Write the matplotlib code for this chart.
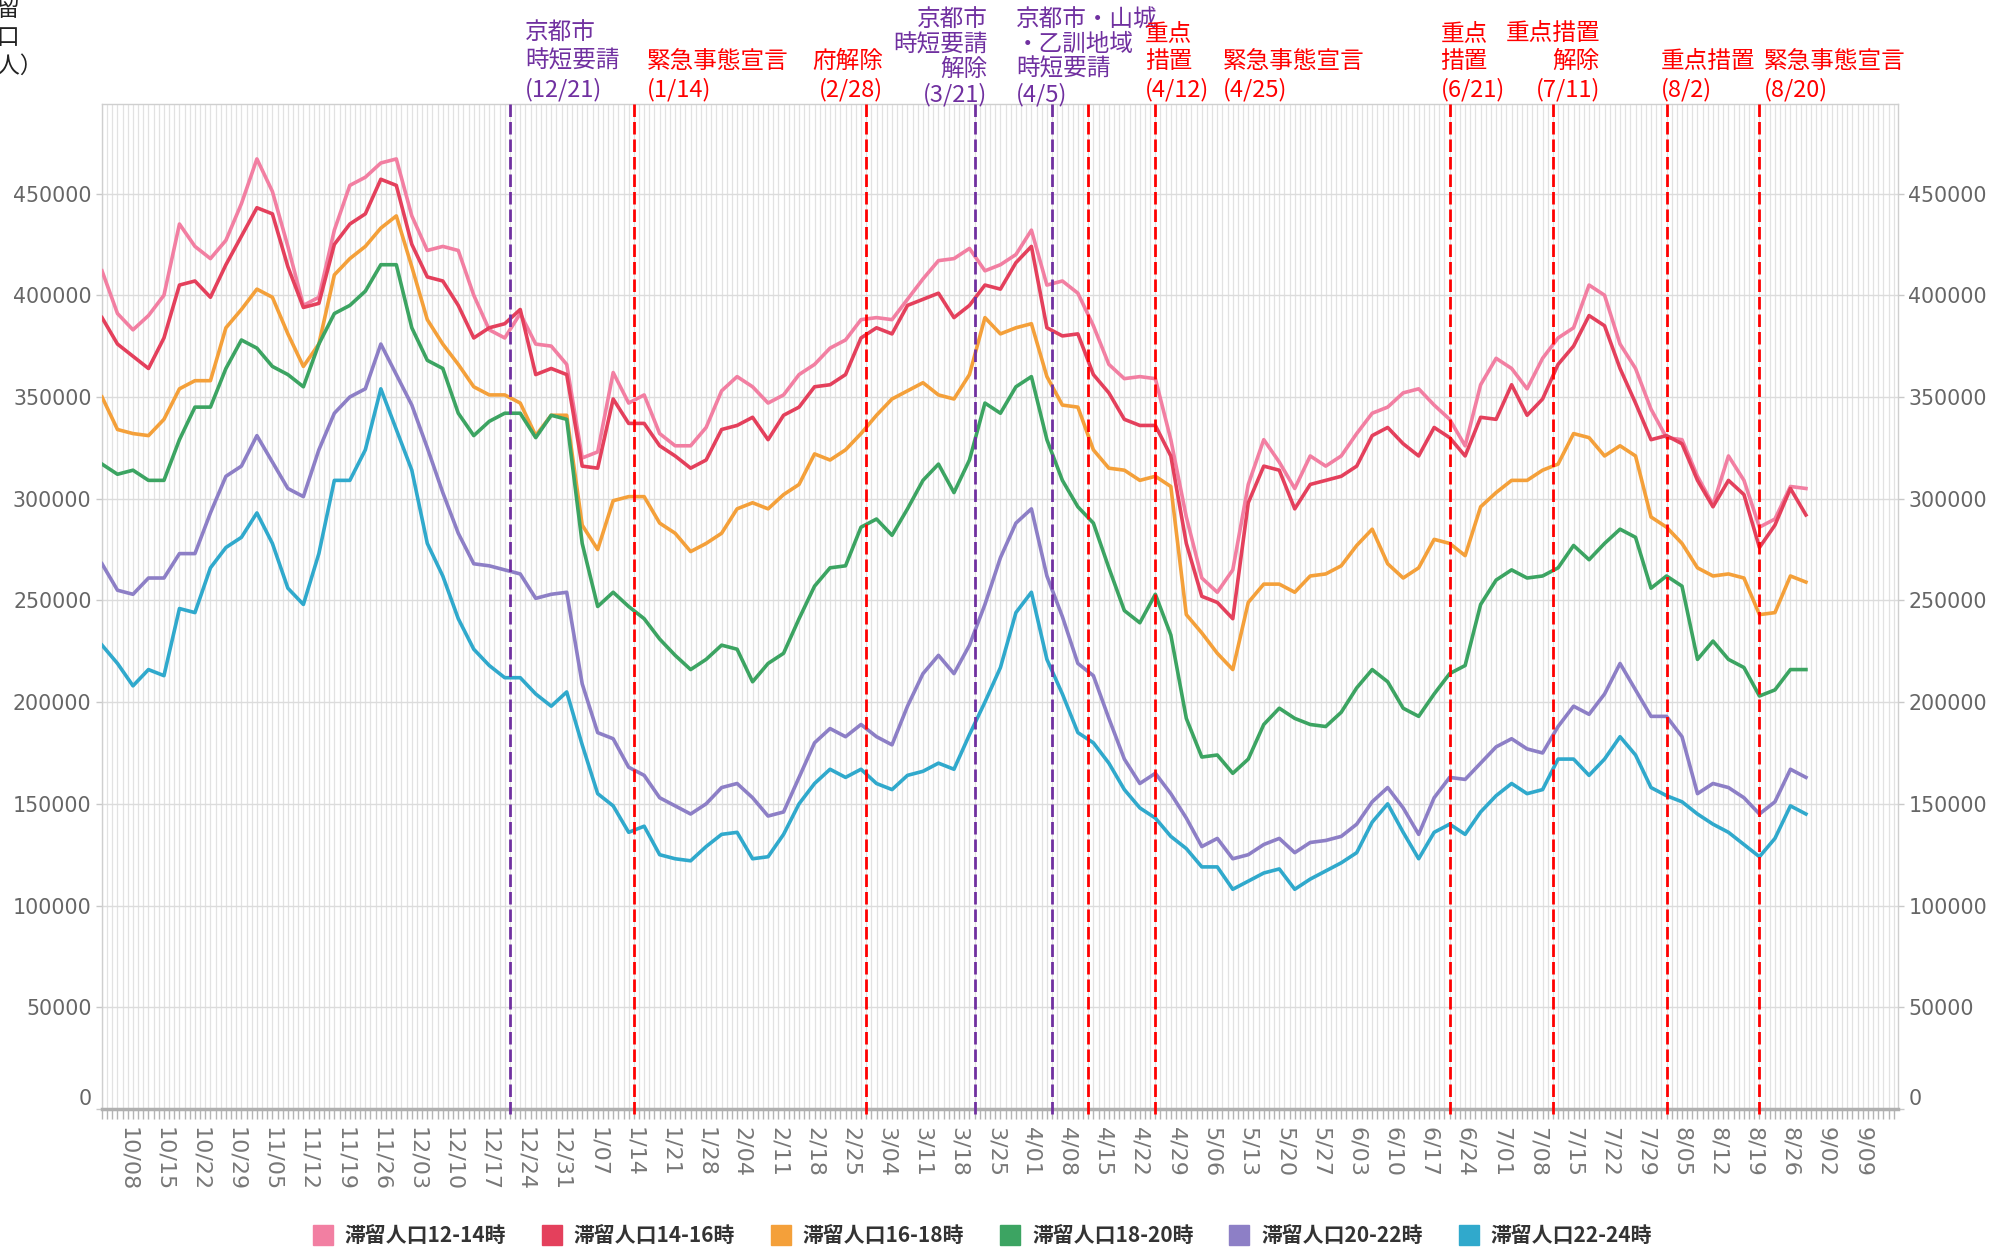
import numpy as np
import pandas as pd
import matplotlib
matplotlib.use('Agg')
import matplotlib.pyplot as plt
import matplotlib.dates as mdates
from matplotlib.ticker import FuncFormatter, MultipleLocator
from matplotlib.lines import Line2D

plt.rcParams['font.family'] = ['DejaVu Sans', 'Noto Sans CJK JP']

# 3日おきの読み取り値 (2020/10/03 - 2021/08/29)
dates = pd.date_range('2020-10-03', periods=111, freq='3D')

pop_12_14 = [412, 391, 383, 390, 400, 435, 424, 418, 427, 445, 467, 451, 424, 395, 399,
             432, 454, 458, 465, 467, 439, 422, 424, 422, 400, 383, 379, 391, 376, 375,
             366, 320, 323, 362, 347, 351, 332, 326, 326, 335, 353, 360, 355, 347, 351,
             361, 366, 374, 378, 388, 389, 388, 398, 408, 417, 418, 423, 412, 415, 420,
             432, 405, 407, 401, 385, 366, 359, 360, 359, 329, 291, 261, 254, 265, 307,
             329, 318, 305, 321, 316, 321, 332, 342, 345, 352, 354, 346, 339, 326, 356,
             369, 364, 354, 369, 379, 384, 405, 400, 376, 364, 344, 330, 329, 311, 297,
             321, 309, 286, 290, 306, 305]
pop_14_16 = [389, 376, 370, 364, 379, 405, 407, 399, 415, 429, 443, 440, 414, 394, 396,
             425, 435, 440, 457, 454, 425, 409, 407, 395, 379, 384, 386, 393, 361, 364,
             361, 316, 315, 349, 337, 337, 326, 321, 315, 319, 334, 336, 340, 329, 341,
             345, 355, 356, 361, 379, 384, 381, 395, 398, 401, 389, 395, 405, 403, 416,
             424, 384, 380, 381, 361, 352, 339, 336, 336, 321, 278, 252, 249, 241, 298,
             316, 314, 295, 307, 309, 311, 316, 331, 335, 327, 321, 335, 330, 321, 340,
             339, 356, 341, 349, 366, 375, 390, 385, 364, 347, 329, 331, 327, 309, 296,
             309, 302, 276, 287, 305, 292]
pop_16_18 = [350, 334, 332, 331, 339, 354, 358, 358, 384, 393, 403, 399, 381, 365, 376,
             410, 418, 424, 433, 439, 414, 388, 376, 366, 355, 351, 351, 347, 331, 341,
             341, 287, 275, 299, 301, 301, 288, 283, 274, 278, 283, 295, 298, 295, 302,
             307, 322, 319, 324, 332, 341, 349, 353, 357, 351, 349, 361, 389, 381, 384,
             386, 360, 346, 345, 324, 315, 314, 309, 311, 306, 243, 234, 224, 216, 249,
             258, 258, 254, 262, 263, 267, 277, 285, 268, 261, 266, 280, 278, 272, 296,
             303, 309, 309, 314, 317, 332, 330, 321, 326, 321, 291, 286, 278, 266, 262,
             263, 261, 243, 244, 262, 259]
pop_18_20 = [317, 312, 314, 309, 309, 329, 345, 345, 364, 378, 374, 365, 361, 355, 376,
             391, 395, 402, 415, 415, 384, 368, 364, 342, 331, 338, 342, 342, 330, 341,
             339, 278, 247, 254, 247, 241, 231, 223, 216, 221, 228, 226, 210, 219, 224,
             241, 257, 266, 267, 286, 290, 282, 295, 309, 317, 303, 319, 347, 342, 355,
             360, 329, 309, 296, 288, 266, 245, 239, 253, 233, 192, 173, 174, 165, 172,
             189, 197, 192, 189, 188, 195, 207, 216, 210, 197, 193, 204, 214, 218, 248,
             260, 265, 261, 262, 266, 277, 270, 278, 285, 281, 256, 262, 257, 221, 230,
             221, 217, 203, 206, 216, 216]
pop_20_22 = [268, 255, 253, 261, 261, 273, 273, 293, 311, 316, 331, 318, 305, 301, 324,
             342, 350, 354, 376, 361, 346, 325, 303, 283, 268, 267, 265, 263, 251, 253,
             254, 209, 185, 182, 168, 164, 153, 149, 145, 150, 158, 160, 153, 144, 146,
             163, 180, 187, 183, 189, 183, 179, 198, 214, 223, 214, 228, 248, 271, 288,
             295, 262, 242, 219, 213, 192, 172, 160, 165, 155, 143, 129, 133, 123, 125,
             130, 133, 126, 131, 132, 134, 140, 151, 158, 148, 135, 153, 163, 162, 170,
             178, 182, 177, 175, 188, 198, 194, 204, 219, 206, 193, 193, 183, 155, 160,
             158, 153, 145, 151, 167, 163]
pop_22_24 = [228, 219, 208, 216, 213, 246, 244, 266, 276, 281, 293, 278, 256, 248, 273,
             309, 309, 324, 354, 334, 314, 278, 262, 241, 226, 218, 212, 212, 204, 198,
             205, 179, 155, 149, 136, 139, 125, 123, 122, 129, 135, 136, 123, 124, 135,
             150, 160, 167, 163, 167, 160, 157, 164, 166, 170, 167, 184, 200, 217, 244,
             254, 221, 204, 185, 180, 170, 157, 148, 143, 134, 128, 119, 119, 108, 112,
             116, 118, 108, 113, 117, 121, 126, 141, 150, 136, 123, 136, 140, 135, 146,
             154, 160, 155, 157, 172, 172, 164, 172, 183, 174, 158, 154, 151, 145, 140,
             136, 130, 124, 133, 149, 145]

series_names = ['滞留人口12-14時', '滞留人口14-16時', '滞留人口16-18時',
                '滞留人口18-20時', '滞留人口20-22時', '滞留人口22-24時']
series_vals = [pop_12_14, pop_14_16, pop_16_18, pop_18_20, pop_20_22, pop_22_24]
colors = ['#F27FA2', '#E4405C', '#F4A03A', '#3CA462', '#8D7FC6', '#30A9CC']

# 施策の日付
event_dates = ['2020-12-21', '2021-01-14', '2021-02-28', '2021-03-21', '2021-04-05',
               '2021-04-12', '2021-04-25', '2021-06-21', '2021-07-11', '2021-08-02',
               '2021-08-20']
event_texts = ['京都市\n時短要請\n(12/21)', '緊急事態宣言\n(1/14)', '府解除\n(2/28)',
               '京都市\n時短要請\n解除\n(3/21)', '京都市・山城\n・乙訓地域\n時短要請\n(4/5)',
               '重点\n措置\n(4/12)', '緊急事態宣言\n(4/25)', '重点\n措置\n(6/21)',
               '重点措置\n解除\n(7/11)', '重点措置\n(8/2)', '緊急事態宣言\n(8/20)']
RED = '#FF0000'
PUR = '#7030A0'
event_colors = [PUR, RED, RED, PUR, PUR, RED, RED, RED, RED, RED, RED]
# テキスト位置 (線からのずれ, px) と揃え
txt_dx = [15, 13, 17, 13, -36, 57, 68, -9, 47, -6, 4]
txt_ha = ['left', 'left', 'right', 'right', 'left', 'left', 'left', 'left', 'right', 'left', 'left']

W, H = 1997, 1254
fig = plt.figure(figsize=(W / 100, H / 100), dpi=100)
ax = fig.add_axes([102 / W, 1 - 1109 / H, 1796 / W, 1005 / H])

for vals, c, name in zip(series_vals, colors, series_names):
    ax.plot(dates, np.array(vals) * 1000, color=c, lw=2.6, label=name, zorder=3)

for d, c in zip(event_dates, event_colors):
    ax.axvline(pd.Timestamp(d), color=c, lw=2.0, linestyle=(0, (4.5, 1.8)), zorder=4,
               clip_on=False, ymin=-0.005)

for d, t, c, dx, ha in zip(event_dates, event_texts, event_colors, txt_dx, txt_ha):
    four = t.count('\n') == 3
    ax.annotate(t, xy=(pd.Timestamp(d), 1.0), xycoords=('data', 'axes fraction'),
                xytext=(dx * 0.72, -1.5 if four else 1.8), textcoords='offset points',
                ha=ha, va='bottom', color=c, fontsize=17,
                linespacing=1.09 if four else 1.27,
                family=['Noto Sans CJK JP'], annotation_clip=False)

ax.set_xlim(pd.Timestamp('2020-10-03'), pd.Timestamp('2021-09-15 20:00'))
ax.set_ylim(0, 494000)

ax.xaxis.set_major_locator(mdates.WeekdayLocator(byweekday=mdates.TH))
ax.xaxis.set_minor_locator(mdates.DayLocator())
ax.xaxis.set_major_formatter(FuncFormatter(
    lambda x, pos: '%d/%02d' % (mdates.num2date(x).month, mdates.num2date(x).day)))
ax.yaxis.set_major_locator(MultipleLocator(50000))
ax.yaxis.set_major_formatter(FuncFormatter(lambda v, pos: '%d' % v))

ax.grid(which='both', axis='x', color='#e2e2e2', lw=0.9, zorder=0)
ax.grid(which='major', axis='y', color='#dcdcdc', lw=1.0, zorder=0)

ax.tick_params(axis='x', which='both', length=7, width=1, color='#b5b5b5',
               labelsize=16, labelcolor='#777777', labelrotation=-90, pad=6)
ax.tick_params(axis='y', which='major', length=4, width=1, color='#c8c8c8',
               labelsize=14.8, labelcolor='#666666', right=True, labelright=True, pad=3.5)

for s in ['left', 'right', 'top']:
    ax.spines[s].set_color('#cfcfcf')
    ax.spines[s].set_linewidth(1.0)
ax.spines['bottom'].set_color('#b0b0b0')
ax.spines['bottom'].set_linewidth(2.5)

fig.text(-26 / W, 1 - 38 / H, '滞留\n人口\n（人）', ha='left', va='center',
         fontsize=16.5, linespacing=1.3, family=['Noto Sans CJK JP'], color='#222222')

handles = [Line2D([], [], marker='s', linestyle='none', markersize=15, color=c)
           for c in colors]
fig.legend(handles, series_names, loc='center', bbox_to_anchor=(0.4918, 0.0145),
           ncol=6, frameon=False, handlelength=1.0, handletextpad=0.55,
           columnspacing=1.7, prop={'family': 'Noto Sans CJK JP', 'weight': 'bold', 'size': 15},
           labelcolor='#333333')

# 0 のラベルは軸の少し上に
fig.canvas.draw()
for lab in ax.get_xticklabels():
    lab.set_va('top')
for t in ax.yaxis.get_major_ticks():
    if t.label1.get_text() == '0':
        t.label1.set_va('bottom')
        t.label2.set_va('bottom')

fig.savefig('out.png', dpi=100)
